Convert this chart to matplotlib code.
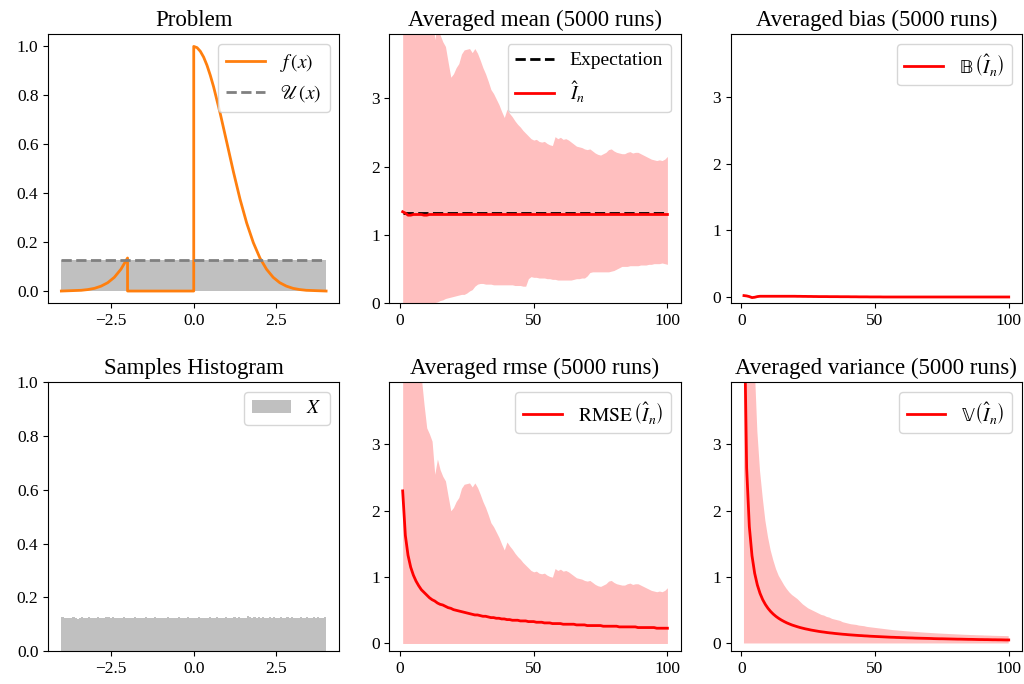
import numpy as np
import matplotlib
matplotlib.use("Agg")
import matplotlib.pyplot as plt

plt.rcParams['font.family'] = ['Liberation Serif', 'DejaVu Serif']
plt.rcParams['mathtext.fontset'] = 'stix'
plt.rcParams['axes.unicode_minus'] = True

# ---- problem: f(x), uniform proposal on [-4, 4]
f_x = [-4.0, -3.8, -3.6, -3.4, -3.2, -3.0, -2.8, -2.6, -2.4, -2.2, -2.0,
       -2.0, 0.0,
       0.0, 0.1, 0.2, 0.3, 0.4, 0.5, 0.6, 0.8, 1.0, 1.2, 1.4, 1.6, 1.8, 2.0,
       2.2, 2.4, 2.6, 2.8, 3.0, 3.2, 3.4, 3.6, 3.8, 4.0]
f_y = [0.000, 0.001, 0.002, 0.003, 0.006, 0.011, 0.020, 0.034, 0.056, 0.089, 0.135,
       0.000, 0.000,
       1.000, 0.995, 0.980, 0.956, 0.923, 0.882, 0.835, 0.726, 0.607, 0.487, 0.375, 0.278, 0.198, 0.135,
       0.089, 0.056, 0.034, 0.020, 0.011, 0.006, 0.003, 0.002, 0.001, 0.000]
u_x = [-4.0, 4.0]
u_y = [0.125, 0.125]

# ---- samples histogram (density)
hist_range = [-4.0, 4.0]
hist_h = [0.126, 0.124, 0.123, 0.125, 0.122, 0.126, 0.124, 0.121, 0.125, 0.127,
          0.123, 0.124, 0.126, 0.122, 0.125, 0.124, 0.128, 0.123, 0.125, 0.124,
          0.126, 0.127, 0.125, 0.128, 0.124, 0.122, 0.125, 0.123, 0.126, 0.124,
          0.125, 0.123, 0.124, 0.126, 0.122, 0.124, 0.125, 0.123, 0.126, 0.124,
          0.122, 0.125, 0.127, 0.124, 0.123, 0.125, 0.122, 0.124, 0.126, 0.123,
          0.125, 0.124, 0.122, 0.126, 0.124, 0.125, 0.123, 0.127, 0.124, 0.122,
          0.125, 0.124, 0.126, 0.123, 0.125, 0.122, 0.124, 0.126, 0.125, 0.123,
          0.127, 0.124, 0.125, 0.122, 0.126, 0.124, 0.123, 0.125, 0.127, 0.124,
          0.126, 0.123, 0.125, 0.124, 0.129, 0.126, 0.125, 0.127, 0.124, 0.126,
          0.125, 0.127, 0.123, 0.125, 0.126, 0.124, 0.127, 0.125, 0.123, 0.126,
          0.124, 0.125, 0.127, 0.124, 0.126, 0.123, 0.125, 0.124, 0.126, 0.125,
          0.123, 0.126, 0.124, 0.125, 0.127, 0.124, 0.126, 0.125, 0.124, 0.126]

# ---- estimator statistics over n = 1..100
n = list(range(1, 101))
expectation = 1.325

mean_est = [1.34, 1.32, 1.29, 1.29, 1.30, 1.30, 1.30, 1.30, 1.29, 1.29,
            1.30, 1.30, 1.30, 1.30, 1.30, 1.30, 1.30, 1.30, 1.30, 1.30,
            1.30, 1.30, 1.30, 1.30, 1.30, 1.30, 1.30, 1.30, 1.30, 1.30,
            1.30, 1.30, 1.30, 1.30, 1.30, 1.30, 1.30, 1.30, 1.30, 1.30,
            1.30, 1.30, 1.30, 1.30, 1.30, 1.30, 1.30, 1.30, 1.30, 1.30,
            1.30, 1.30, 1.30, 1.30, 1.30, 1.30, 1.30, 1.30, 1.30, 1.30,
            1.30, 1.30, 1.30, 1.30, 1.30, 1.30, 1.30, 1.30, 1.30, 1.30,
            1.30, 1.30, 1.30, 1.30, 1.30, 1.30, 1.30, 1.30, 1.30, 1.30,
            1.30, 1.30, 1.30, 1.30, 1.30, 1.30, 1.30, 1.30, 1.30, 1.30,
            1.30, 1.30, 1.30, 1.30, 1.30, 1.30, 1.30, 1.30, 1.30, 1.30]
mean_hi = [8.01, 6.51, 5.81, 5.61, 5.51, 5.41, 5.36, 5.31, 4.91, 4.56,
           4.47, 4.36, 3.86, 4.09, 3.93, 3.83, 3.76, 3.53, 3.31, 3.36,
           3.45, 3.51, 3.65, 3.71, 3.72, 3.73, 3.67, 3.73, 3.66, 3.56,
           3.45, 3.36, 3.25, 3.13, 3.07, 2.99, 2.91, 2.81, 2.72, 2.84,
           2.78, 2.73, 2.67, 2.62, 2.58, 2.53, 2.49, 2.45, 2.41, 2.39,
           2.40, 2.37, 2.36, 2.37, 2.34, 2.32, 2.31, 2.44, 2.41, 2.43,
           2.40, 2.41, 2.39, 2.36, 2.33, 2.30, 2.29, 2.28, 2.26, 2.25,
           2.26, 2.23, 2.20, 2.18, 2.17, 2.19, 2.21, 2.25, 2.26, 2.23,
           2.21, 2.20, 2.19, 2.19, 2.21, 2.22, 2.20, 2.21, 2.21, 2.19,
           2.17, 2.15, 2.13, 2.11, 2.10, 2.09, 2.10, 2.09, 2.11, 2.15]
mean_lo = [0.00, 0.00, 0.00, 0.00, 0.00, 0.00, 0.00, 0.00, 0.00, 0.00,
           0.00, 0.00, 0.01, 0.02, 0.04, 0.05, 0.07, 0.08, 0.09, 0.10,
           0.11, 0.12, 0.13, 0.13, 0.15, 0.18, 0.20, 0.25, 0.28, 0.29,
           0.29, 0.28, 0.28, 0.28, 0.27, 0.27, 0.27, 0.27, 0.27, 0.27,
           0.27, 0.27, 0.26, 0.26, 0.26, 0.25, 0.25, 0.36, 0.39, 0.38,
           0.38, 0.37, 0.37, 0.37, 0.36, 0.36, 0.35, 0.35, 0.34, 0.34,
           0.34, 0.34, 0.34, 0.34, 0.35, 0.36, 0.36, 0.37, 0.37, 0.40,
           0.45, 0.46, 0.46, 0.46, 0.46, 0.46, 0.46, 0.46, 0.47, 0.48,
           0.50, 0.52, 0.54, 0.54, 0.54, 0.55, 0.55, 0.55, 0.55, 0.56,
           0.56, 0.56, 0.57, 0.57, 0.58, 0.58, 0.58, 0.59, 0.58, 0.57]

bias = [0.025, 0.020, 0.010, -0.005, 0.000, 0.010, 0.015, 0.015, 0.015, 0.015,
        0.015, 0.015, 0.015, 0.015, 0.015, 0.015, 0.015, 0.015, 0.015, 0.015,
        0.014, 0.014, 0.013, 0.013, 0.012, 0.012, 0.011, 0.011, 0.010, 0.010,
        0.010, 0.010, 0.009, 0.009, 0.009, 0.009, 0.008, 0.008, 0.008, 0.008,
        0.007, 0.007, 0.007, 0.006, 0.006, 0.006, 0.006, 0.005, 0.005, 0.005,
        0.005, 0.005, 0.004, 0.004, 0.004, 0.004, 0.004, 0.004, 0.004, 0.004,
        0.004, 0.004, 0.004, 0.004, 0.004, 0.004, 0.004, 0.004, 0.004, 0.004,
        0.004, 0.004, 0.004, 0.004, 0.004, 0.004, 0.004, 0.004, 0.004, 0.004,
        0.004, 0.004, 0.004, 0.004, 0.004, 0.004, 0.004, 0.004, 0.004, 0.004,
        0.004, 0.004, 0.004, 0.004, 0.004, 0.004, 0.004, 0.004, 0.004, 0.004]

rmse = [2.30, 1.63, 1.33, 1.15, 1.03, 0.94, 0.87, 0.81, 0.77, 0.73,
        0.69, 0.66, 0.64, 0.61, 0.59, 0.58, 0.56, 0.54, 0.53, 0.51,
        0.50, 0.49, 0.48, 0.47, 0.46, 0.45, 0.44, 0.43, 0.43, 0.42,
        0.41, 0.41, 0.40, 0.39, 0.39, 0.38, 0.38, 0.37, 0.37, 0.36,
        0.36, 0.35, 0.35, 0.35, 0.34, 0.34, 0.34, 0.33, 0.33, 0.33,
        0.32, 0.32, 0.32, 0.31, 0.31, 0.31, 0.30, 0.30, 0.30, 0.30,
        0.29, 0.29, 0.29, 0.29, 0.29, 0.28, 0.28, 0.28, 0.28, 0.27,
        0.27, 0.27, 0.27, 0.27, 0.27, 0.26, 0.26, 0.26, 0.26, 0.26,
        0.26, 0.25, 0.25, 0.25, 0.25, 0.25, 0.25, 0.25, 0.24, 0.24,
        0.24, 0.24, 0.24, 0.24, 0.24, 0.23, 0.23, 0.23, 0.23, 0.23]
rmse_hi = [6.70, 5.20, 4.50, 4.30, 4.20, 4.10, 4.05, 4.00, 3.60, 3.25,
           3.16, 3.05, 2.55, 2.78, 2.62, 2.52, 2.45, 2.22, 2.00, 2.05,
           2.14, 2.20, 2.34, 2.40, 2.41, 2.42, 2.36, 2.42, 2.35, 2.25,
           2.14, 2.05, 1.94, 1.82, 1.76, 1.68, 1.60, 1.50, 1.41, 1.53,
           1.47, 1.42, 1.36, 1.31, 1.27, 1.22, 1.18, 1.14, 1.10, 1.08,
           1.09, 1.06, 1.05, 1.06, 1.03, 1.01, 1.00, 1.13, 1.10, 1.12,
           1.09, 1.10, 1.08, 1.05, 1.02, 0.99, 0.98, 0.97, 0.95, 0.94,
           0.95, 0.92, 0.89, 0.87, 0.86, 0.88, 0.90, 0.94, 0.95, 0.92,
           0.90, 0.89, 0.88, 0.88, 0.90, 0.91, 0.89, 0.90, 0.90, 0.88,
           0.86, 0.84, 0.82, 0.80, 0.79, 0.78, 0.79, 0.78, 0.80, 0.84]

variance = [5.290, 2.645, 1.763, 1.323, 1.058, 0.882, 0.756, 0.661, 0.588, 0.529,
            0.481, 0.441, 0.407, 0.378, 0.353, 0.331, 0.311, 0.294, 0.278, 0.265,
            0.252, 0.240, 0.230, 0.220, 0.212, 0.203, 0.196, 0.189, 0.182, 0.176,
            0.171, 0.165, 0.160, 0.156, 0.151, 0.147, 0.143, 0.139, 0.136, 0.132,
            0.129, 0.126, 0.123, 0.120, 0.118, 0.115, 0.113, 0.110, 0.108, 0.106,
            0.104, 0.102, 0.100, 0.098, 0.096, 0.094, 0.093, 0.091, 0.090, 0.088,
            0.087, 0.085, 0.084, 0.083, 0.081, 0.080, 0.079, 0.078, 0.077, 0.076,
            0.075, 0.073, 0.072, 0.071, 0.071, 0.070, 0.069, 0.068, 0.067, 0.066,
            0.065, 0.065, 0.064, 0.063, 0.062, 0.062, 0.061, 0.060, 0.059, 0.059,
            0.058, 0.058, 0.057, 0.056, 0.056, 0.055, 0.055, 0.054, 0.053, 0.053]
var_hi = [30.0, 15.0, 9.00, 6.00, 4.20, 3.20, 2.60, 2.20, 1.85, 1.60,
          1.40, 1.25, 1.12, 1.02, 0.95, 0.88, 0.82, 0.77, 0.73, 0.70,
          0.67, 0.63, 0.59, 0.56, 0.53, 0.51, 0.49, 0.47, 0.45, 0.43,
          0.42, 0.40, 0.39, 0.37, 0.36, 0.35, 0.34, 0.32, 0.31, 0.30,
          0.290, 0.285, 0.280, 0.270, 0.265, 0.260, 0.250, 0.245, 0.240, 0.235,
          0.230, 0.225, 0.220, 0.215, 0.210, 0.205, 0.200, 0.197, 0.193, 0.190,
          0.186, 0.183, 0.180, 0.177, 0.174, 0.171, 0.168, 0.165, 0.162, 0.160,
          0.157, 0.155, 0.152, 0.150, 0.148, 0.146, 0.144, 0.142, 0.140, 0.138,
          0.136, 0.134, 0.132, 0.130, 0.129, 0.127, 0.126, 0.124, 0.123, 0.122,
          0.120, 0.119, 0.118, 0.116, 0.115, 0.114, 0.113, 0.112, 0.111, 0.110]

BAND = '#ffbfbf'
TITLE_FS = 16.5
LEG_FS = 14
TICK_FS = 12.5
YTOP = 3.94

fig, axs = plt.subplots(2, 3, figsize=(10.24, 6.84), dpi=100)
fig.subplots_adjust(left=0.047, right=0.998, bottom=0.048, top=0.950,
                    wspace=0.172, hspace=0.293)

# Problem
ax = axs[0, 0]
ax.fill_between(u_x, 0, u_y, color='silver', lw=0)
ax.plot(f_x, f_y, color='C1', lw=2, label=r'$f\,\left(x\right)$')
ax.plot(u_x, u_y, color='gray', ls='--', lw=2, label=r'$\mathscr{U}\,\left(x\right)$')
ax.set_title('Problem', fontsize=TITLE_FS)
ax.legend(loc='upper right', fontsize=LEG_FS)

# Averaged mean
ax = axs[0, 1]
ax.fill_between(n, mean_lo, mean_hi, color=BAND, lw=0)
ax.hlines(expectation, n[0], n[-1], color='black', linestyles='--', lw=2, label='Expectation')
ax.plot(n, mean_est, color='red', lw=2, label=r'$\hat{I}_n$')
ax.set_ylim(0, YTOP)
ax.set_title('Averaged mean (5000 runs)', fontsize=TITLE_FS)
ax.legend(loc='upper right', fontsize=LEG_FS)

# Averaged bias
ax = axs[0, 2]
ax.plot(n, bias, color='red', lw=2, label=r'$\mathrm{\mathbb{B}}\,\left(\hat{I}_n\right)$')
ax.set_ylim(-0.09, YTOP)
ax.set_title('Averaged bias (5000 runs)', fontsize=TITLE_FS)
ax.legend(loc='upper right', fontsize=LEG_FS)

# Samples histogram
ax = axs[1, 0]
edges = np.linspace(hist_range[0], hist_range[1], len(hist_h) + 1)
ax.stairs(hist_h, edges, fill=True, color='silver', label='$X$')
ax.set_ylim(0, 1.0)
ax.set_title('Samples Histogram', fontsize=TITLE_FS)
ax.legend(loc='upper right', fontsize=LEG_FS)

# Averaged rmse
ax = axs[1, 1]
ax.fill_between(n, 0, rmse_hi, color=BAND, lw=0)
ax.plot(n, rmse, color='red', lw=2, label=r'$\mathrm{RMSE}\,\left(\hat{I}_n\right)$')
ax.set_ylim(-0.116, YTOP)
ax.set_title('Averaged rmse (5000 runs)', fontsize=TITLE_FS)
ax.legend(loc='upper right', fontsize=LEG_FS)

# Averaged variance
ax = axs[1, 2]
ax.fill_between(n, 0, var_hi, color=BAND, lw=0)
ax.plot(n, variance, color='red', lw=2, label=r'$\mathrm{\mathbb{V}}\,\left(\hat{I}_n\right)$')
ax.set_ylim(-0.116, YTOP)
ax.set_title('Averaged variance (5000 runs)', fontsize=TITLE_FS)
ax.legend(loc='upper right', fontsize=LEG_FS)

for a in axs.flat:
    a.tick_params(labelsize=TICK_FS)
for a in [axs[0, 0], axs[1, 0]]:
    a.set_xticks([-2.5, 0.0, 2.5])
for a in [axs[0, 1], axs[0, 2], axs[1, 1], axs[1, 2]]:
    a.set_yticks([0, 1, 2, 3])
    a.set_xticks([0, 50, 100])

fig.savefig('out.png', dpi=100)
